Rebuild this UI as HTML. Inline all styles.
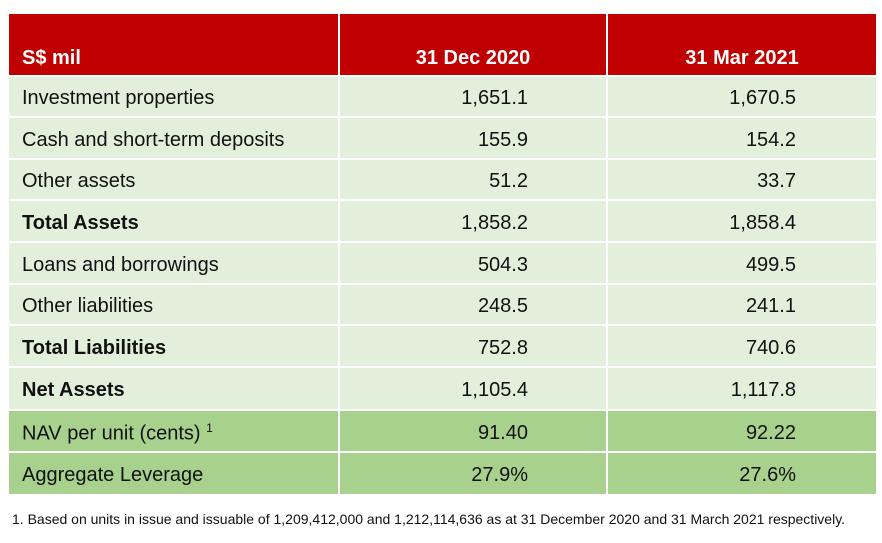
<!DOCTYPE html>
<html><head><meta charset="utf-8"><style>
body{margin:0;width:882px;height:543px;background:#fff;font-family:"Liberation Sans",Arial,sans-serif;position:relative;overflow:hidden}
.c{position:absolute;box-sizing:border-box;font-size:20px;color:#111;display:flex;align-items:center;padding-top:4px}
.h{background:#c00000;color:#fff;font-weight:bold;align-items:flex-end;padding-bottom:5px;padding-top:0}
.l{background:#e2efda}.d{background:#a9d18e}
.lab{padding-left:13px}
.num{justify-content:flex-end}
.b{font-weight:bold}
#fn{position:absolute;left:12px;top:511px;font-size:14px;color:#111}
</style></head><body>
<div id="t"></div>
<div id="fn">1. Based on units in issue and issuable of 1,209,412,000 and 1,212,114,636 as at 31 December 2020 and 31 March 2021 respectively.</div>
<script>
const labels=["Investment properties","Cash and short-term deposits","Other assets","Total Assets","Loans and borrowings","Other liabilities","Total Liabilities","Net Assets","NAV per unit (cents) <sup style='font-size:12px'>1</sup>","Aggregate Leverage"];
const dec2020=["1,651.1","155.9","51.2","1,858.2","504.3","248.5","752.8","1,105.4","91.40","27.9%"];
const mar2021=["1,670.5","154.2","33.7","1,858.4","499.5","241.1","740.6","1,117.8","92.22","27.6%"];
const bold=[3,6,7];
const tops=[77,118,160,201,243,285,326,368,411,453,496];
const t=document.getElementById('t');
function cell(x,y,w,h,cls,html,pr){const d=document.createElement('div');d.className='c '+cls;d.style.cssText=`left:${x}px;top:${y}px;width:${w}px;height:${h}px;`+(pr?`padding-right:${pr}px;`:'');d.innerHTML='<span>'+html+'</span>';t.appendChild(d);return d;}
let e=cell(9,14,329,61,'h lab','S$ mil');
e=cell(340,14,266,61,'h','31 Dec 2020');e.style.justifyContent='center';
e=cell(608,14,268,61,'h','31 Mar 2021');e.style.justifyContent='center';
labels.forEach((lb,i)=>{
 const y=tops[i],h=tops[i+1]-y-2,bg=i>=8?'d':'l',b=bold.includes(i)?' b':'';
 let a=cell(9,y,329,h,bg+' lab'+b,lb);
 a=cell(340,y,266,h,bg+' num',dec2020[i],78);
 a=cell(608,y,268,h,bg+' num',mar2021[i],80);
});
</script>
</body></html>
